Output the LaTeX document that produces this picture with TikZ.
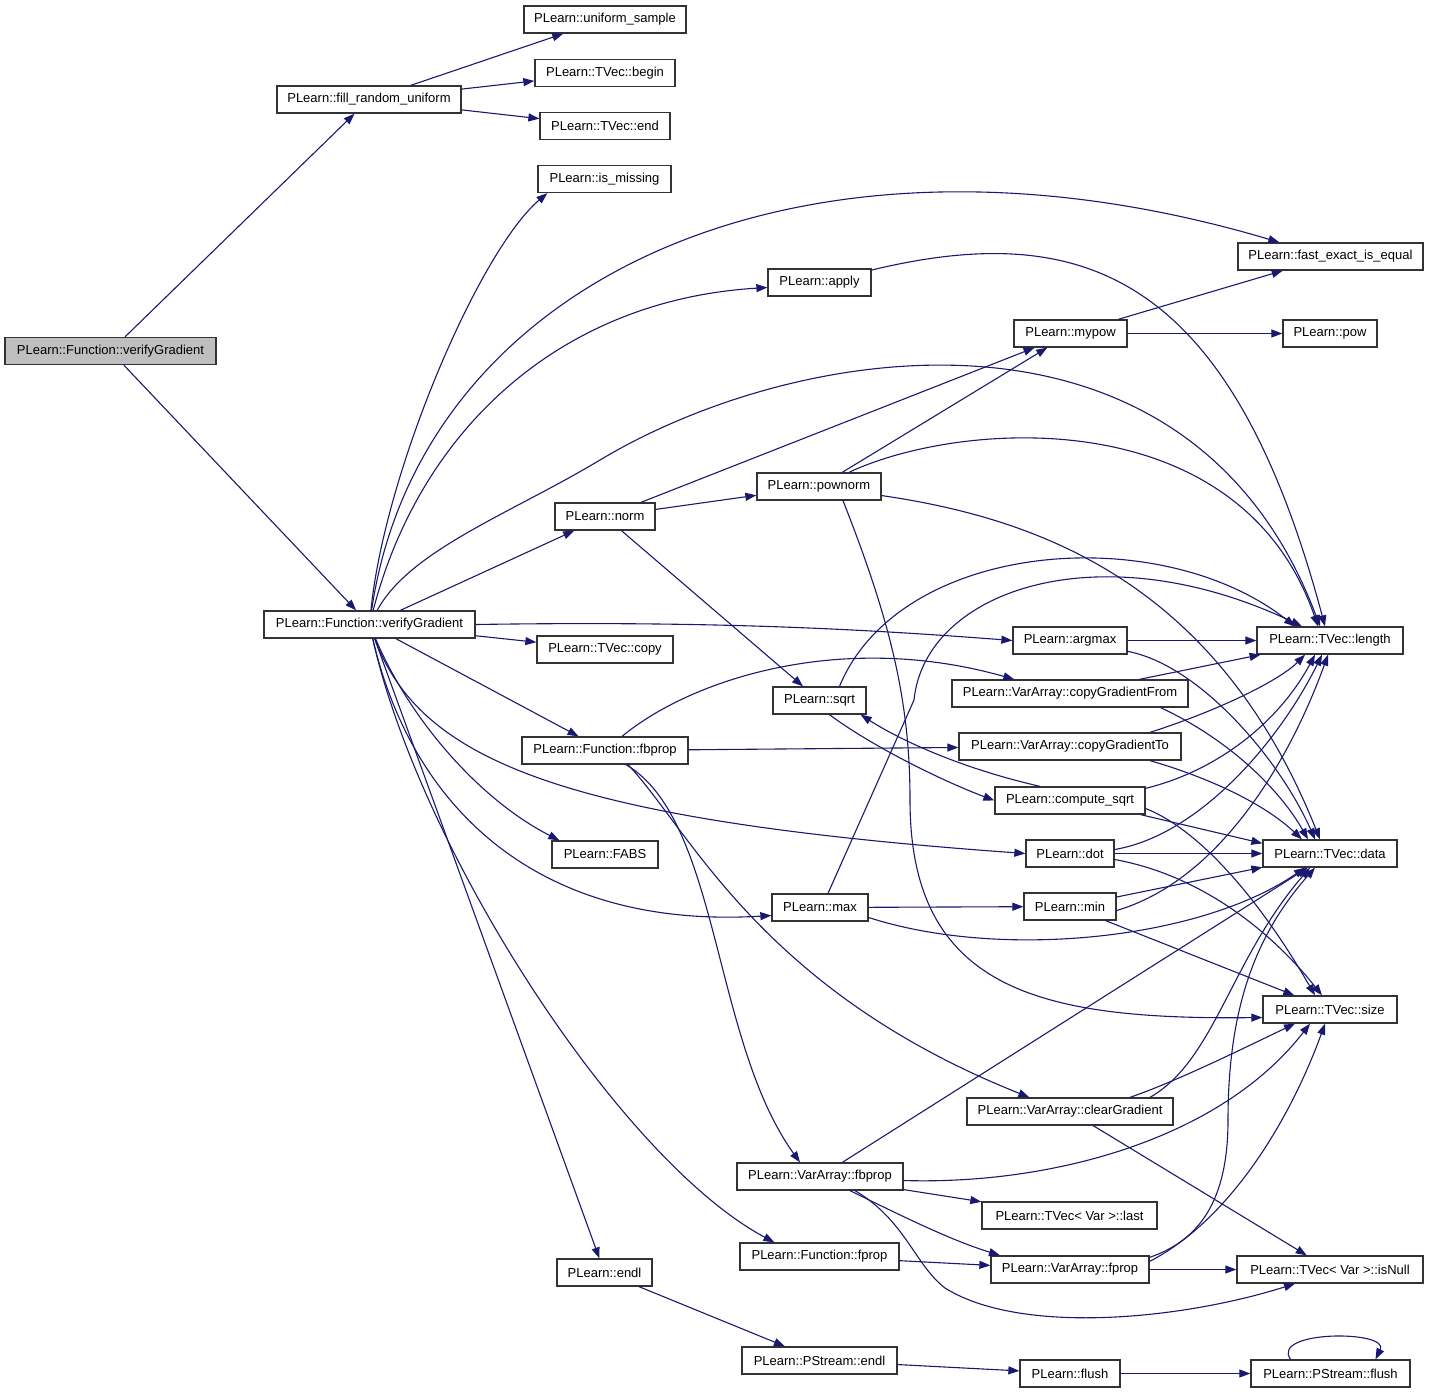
\documentclass[tikz,border=0pt]{standalone}
\usepackage{fontspec}
\setmainfont{Liberation Sans}
\usetikzlibrary{arrows.meta}
\definecolor{callblue}{RGB}{25,25,112}
\definecolor{rootgray}{RGB}{191,191,191}

\begin{document}
\begin{tikzpicture}[x=1pt, y=-1pt,
    func/.style={draw=black!80, line width=1.3pt, fill=white, inner sep=0pt,
      minimum height=27pt, minimum width=#1, font=\fontsize{13}{15}\selectfont},
    calls/.style={draw=callblue, line width=1.1pt, -{Triangle[length=11pt,width=8pt]}}]
  \useasboundingbox (0,0) rectangle (1429,1395);

  \node[func=211pt, fill=rootgray] (root) at (110.5,351) {PLearn::Function::verifyGradient};
  \node[func=184pt] (fillru) at (369,99.5) {PLearn::fill\_random\_uniform};
  \node[func=162pt] (unisample) at (605,19.5) {PLearn::uniform\_sample};
  \node[func=140pt] (tbegin) at (605,73) {PLearn::TVec::begin};
  \node[func=130pt] (tend) at (605,126) {PLearn::TVec::end};
  \node[func=133pt] (ismissing) at (604.5,179) {PLearn::is\_missing};
  \node[func=185pt] (fasteq) at (1330.5,256.5) {PLearn::fast\_exact\_is\_equal};
  \node[func=103pt] (apply) at (819.5,282.5) {PLearn::apply};
  \node[func=113pt] (mypow) at (1070.5,333.5) {PLearn::mypow};
  \node[func=94pt] (pow) at (1330,333.5) {PLearn::pow};
  \node[func=124pt] (pownorm) at (819,486.5) {PLearn::pownorm};
  \node[func=100pt] (norm) at (605,516.5) {PLearn::norm};
  \node[func=211pt] (verif) at (369.5,624.5) {PLearn::Function::verifyGradient};
  \node[func=136pt] (tcopy) at (605,649.5) {PLearn::TVec::copy};
  \node[func=114pt] (argmax) at (1070,640.5) {PLearn::argmax};
  \node[func=146pt] (tlength) at (1330,640.5) {PLearn::TVec::length};
  \node[func=93pt] (sqrt) at (819.5,700.5) {PLearn::sqrt};
  \node[func=236pt] (cgfrom) at (1070,693.5) {PLearn::VarArray::copyGradientFrom};
  \node[func=166pt] (ffbprop) at (605,750.5) {PLearn::Function::fbprop};
  \node[func=222pt] (cgto) at (1070,746.5) {PLearn::VarArray::copyGradientTo};
  \node[func=150pt] (csqrt) at (1070,800.5) {PLearn::compute\_sqrt};
  \node[func=106pt] (fabs) at (605,854.5) {PLearn::FABS};
  \node[func=88pt] (dot) at (1070,853.5) {PLearn::dot};
  \node[func=134pt] (tdata) at (1330,853.5) {PLearn::TVec::data};
  \node[func=96pt] (max) at (820,907.5) {PLearn::max};
  \node[func=92pt] (min) at (1070,906.5) {PLearn::min};
  \node[func=134pt] (tsize) at (1330,1009.5) {PLearn::TVec::size};
  \node[func=206pt] (cleargrad) at (1070,1111.5) {PLearn::VarArray::clearGradient};
  \node[func=166pt] (vfbprop) at (820,1176.5) {PLearn::VarArray::fbprop};
  \node[func=175pt] (tlast) at (1069.5,1215.5) {PLearn::TVec< Var >::last};
  \node[func=159pt] (ffprop) at (819.5,1256.5) {PLearn::Function::fprop};
  \node[func=158pt] (vfprop) at (1070,1269.5) {PLearn::VarArray::fprop};
  \node[func=186pt] (tisnull) at (1330,1269.5) {PLearn::TVec< Var >::isNull};
  \node[func=95pt] (endl) at (604.5,1272.5) {PLearn::endl};
  \node[func=155pt] (psendl) at (819.5,1360.5) {PLearn::PStream::endl};
  \node[func=100pt] (flush) at (1070,1373.5) {PLearn::flush};
  \node[func=159pt] (psflush) at (1330.5,1373.5) {PLearn::PStream::flush};

  \draw[calls] (root) -- (fillru);
  \draw[calls] (root) -- (verif);
  \draw[calls] (fillru) -- (unisample);
  \draw[calls] (fillru) -- (tbegin);
  \draw[calls] (fillru) -- (tend);

  % calls of Function::verifyGradient
  \draw[calls] (verif) .. controls (385,470) and (480,250) .. ([xshift=10pt]ismissing.south west);
  \draw[calls] (verif) .. controls (420,280) and (800,100) .. ([xshift=42pt]fasteq.north west);
  \draw[calls] (verif) .. controls (420,430) and (560,300) .. ([yshift=-5pt]apply.west);
  \draw[calls] (verif) .. controls (410,550) and (510,514) .. (600,460)
    .. controls (800,340) and (1190,280) .. ([xshift=-10pt]tlength.north);
  \draw[calls] (verif) -- (norm);
  \draw[calls] (verif.east) .. controls (700,621) and (850,628) .. (argmax.west);
  \draw[calls] (verif) -- (tcopy);
  \draw[calls] (verif) -- (ffbprop);
  \draw[calls] (verif) .. controls (410,720) and (480,800) .. ([xshift=8pt]fabs.north west);
  \draw[calls] (verif) .. controls (420,760) and (560,820) .. (dot.west);
  \draw[calls] (verif) .. controls (410,800) and (530,930) .. ([yshift=-8pt]max.west);
  \draw[calls] (verif) .. controls (420,850) and (620,1160) .. ([xshift=35pt]ffprop.north west);
  \draw[calls] (verif) -- (endl);

  \draw[calls] (norm) -- (pownorm);
  \draw[calls] (norm) -- (mypow);
  \draw[calls] (norm) -- (sqrt);
  \draw[calls] (pownorm) -- (mypow);
  \draw[calls] (pownorm) .. controls (960,420) and (1240,400) .. ([xshift=-12pt]tlength.north);
  \draw[calls] (pownorm) .. controls (1050,520) and (1220,590) .. ([xshift=-10pt]tdata.north);
  \draw[calls] ([xshift=24pt]pownorm.south) .. controls (890,620) and (910,700) .. (910,800)
    .. controls (910,990) and (1040,1020) .. ([yshift=-8pt]tsize.west);
  \draw[calls] (mypow) -- (fasteq);
  \draw[calls] (mypow) -- (pow);
  \draw[calls] (apply) .. controls (1080,220) and (1230,270) .. ([xshift=-5pt]tlength.north);

  \draw[calls] (argmax) -- (tlength);
  \draw[calls] (argmax) .. controls (1200,665) and (1280,760) .. ([xshift=-15pt]tdata.north);
  \draw[calls] (cgfrom) -- (tlength);
  \draw[calls] ([xshift=-28pt]cgfrom.south east) .. controls (1230,740) and (1280,790) .. ([xshift=-22pt]tdata.north);
  \draw[calls] ([xshift=80pt]cgto.north) .. controls (1220,710) and (1280,680) .. ([xshift=-25pt]tlength.south);
  \draw[calls] ([xshift=80pt]cgto.south) .. controls (1200,775) and (1260,800) .. ([xshift=-28pt]tdata.north);

  % calls of Function::fbprop
  \draw[calls] (ffbprop) .. controls (690,680) and (840,630) .. ([xshift=63pt]cgfrom.north west);
  \draw[calls] (ffbprop) -- (cgto);
  \draw[calls] ([xshift=21pt]ffbprop.south) .. controls (720,820) and (712,1040) .. ([xshift=-20pt]vfbprop.north);
  \draw[calls] ([xshift=23pt]ffbprop.south) .. controls (690,830) and (760,990) .. ([xshift=63pt]cleargrad.north west);

  \draw[calls] ([xshift=20pt]sqrt.north) .. controls (900,540) and (1160,520) .. ([xshift=-35pt]tlength.north);
  \draw[calls] ([xshift=10pt]sqrt.south) .. controls (870,745) and (940,780) .. (csqrt.west);
  \draw[calls] ([xshift=-30pt]csqrt.north) .. controls (960,768) and (900,740) .. ([xshift=-6pt]sqrt.south east);
  \draw[calls] ([yshift=-2pt]csqrt.north east) .. controls (1220,770) and (1280,720) .. ([xshift=-15pt]tlength.south);
  \draw[calls] ([xshift=-5pt]csqrt.south east) -- ([yshift=-4pt]tdata.north west);
  \draw[calls] ([yshift=-8pt]csqrt.east) .. controls (1200,830) and (1260,900) .. ([xshift=-15pt]tsize.north);

  \draw[calls] ([yshift=4pt]dot.east) .. controls (1200,835) and (1280,740) .. ([xshift=-8pt]tlength.south);
  \draw[calls] (dot) -- (tdata);
  \draw[calls] ([yshift=-6pt]dot.east) .. controls (1200,875) and (1270,930) .. ([xshift=-8pt]tsize.north);
  \draw[calls] (min) -- (tdata);
  \draw[calls] ([yshift=-4pt]min.east) .. controls (1220,880) and (1290,760) .. ([xshift=-2pt]tlength.south);
  \draw[calls] (min) -- (tsize);
  \draw[calls] (max) -- (min);
  \draw[calls] ([yshift=-10pt]max.east) .. controls (1000,960) and (1200,940) .. ([xshift=-25pt]tdata.south);
  \draw[calls] ([xshift=8pt]max.north) -- (914,700)
    .. controls (925,590) and (1100,530) .. ([xshift=-28pt]tlength.north);

  \draw[calls] ([xshift=80pt]cleargrad.north) .. controls (1215,1060) and (1230,960) .. ([xshift=-20pt]tdata.south);
  \draw[calls] ([xshift=60pt]cleargrad.north) .. controls (1180,1080) and (1250,1045) .. ([xshift=-35pt]tsize.south);
  \draw[calls] (cleargrad) -- (tisnull);

  % calls of VarArray::fbprop and fprop
  \draw[calls] (vfbprop) -- (tdata);
  \draw[calls] ([yshift=-4pt]vfbprop.east) .. controls (1050,1185) and (1220,1140) .. ([xshift=-20pt]tsize.south);
  \draw[calls] (vfbprop) -- (tlast);
  \draw[calls] ([xshift=30pt]vfbprop.south) .. controls (900,1215) and (950,1240) .. ([xshift=-70pt]vfprop.north);
  \draw[calls] ([xshift=35pt]vfbprop.south) .. controls (905,1220) and (915,1265) .. (945,1288)
    .. controls (1020,1335) and (1180,1320) .. ([xshift=-35pt]tisnull.south);
  \draw[calls] (ffprop) -- (vfprop);
  \draw[calls] (vfprop) -- (tisnull);
  \draw[calls] ([yshift=-2pt]vfprop.north east) .. controls (1200,1240) and (1228,1200) .. (1228,1120)
    .. controls (1228,1000) and (1260,930) .. ([xshift=-15pt]tdata.south);
  \draw[calls] ([yshift=-6pt]vfprop.north east) .. controls (1230,1220) and (1290,1120) .. ([xshift=-5pt]tsize.south);

  \draw[calls] (endl) -- (psendl);
  \draw[calls] (psendl) -- (flush);
  \draw[calls] (flush) -- (psflush);
  \draw[calls] ([xshift=-40pt]psflush.north) .. controls (1270,1330) and (1390,1330) .. ([xshift=45pt]psflush.north);
\end{tikzpicture}
\end{document}
